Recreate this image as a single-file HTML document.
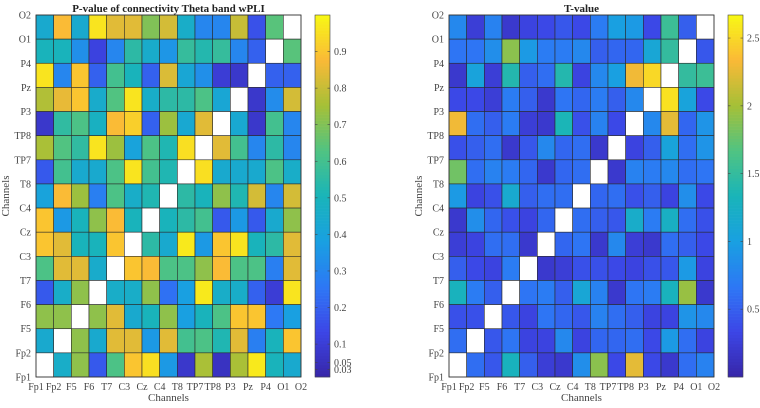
<!DOCTYPE html>
<html><head><meta charset="utf-8">
<style>
html,body{margin:0;padding:0;background:#fff;}
svg{display:block;font-family:"Liberation Serif",serif;}
</style></head>
<body>
<svg id="chart" width="760" height="408" viewBox="0 0 760 408"></svg>
<script>
const channels = ["Fp1","Fp2","F5","F6","T7","C3","Cz","C4","T8","TP7","TP8","P3","Pz","P4","O1","O2"];
// rows listed top to bottom, null = diagonal (white)
const pValues = [
[0.44,0.88,0.44,0.96,0.84,0.84,0.70,0.82,0.46,0.30,0.30,0.80,0.16,0.64,null],
[0.50,0.50,0.33,0.12,0.30,0.55,0.45,0.35,0.57,0.53,0.57,0.30,0.20,null,0.64],
[0.96,0.30,0.90,0.20,0.60,0.50,0.20,0.83,0.42,0.33,0.10,0.08,null,0.20,0.20],
[0.77,0.85,0.90,0.45,0.63,0.96,0.46,0.55,0.55,0.62,0.42,null,0.08,0.32,0.82],
[0.08,0.56,0.62,0.48,0.88,0.92,0.20,0.74,0.43,0.84,null,0.43,0.08,0.60,0.30],
[0.76,0.63,0.56,0.96,0.74,0.40,0.62,0.52,0.95,null,0.84,0.60,0.30,0.55,0.30],
[0.18,0.60,0.44,0.44,0.62,0.96,0.60,0.52,null,0.95,0.44,0.44,0.44,0.62,0.46],
[0.40,0.88,0.74,0.28,0.62,0.46,0.52,null,0.55,0.50,0.72,0.52,0.82,0.30,0.82],
[0.90,0.36,0.50,0.72,0.88,0.50,null,0.50,0.55,0.60,0.18,0.36,0.18,0.44,0.72],
[0.90,0.84,0.50,0.50,0.90,null,0.55,0.44,0.97,0.36,0.90,0.96,0.50,0.55,0.84],
[0.62,0.84,0.84,0.45,null,0.90,0.88,0.62,0.62,0.72,0.88,0.62,0.62,0.28,0.84],
[0.18,0.46,0.72,null,0.46,0.46,0.72,0.24,0.38,0.97,0.46,0.46,0.20,0.10,0.96],
[0.72,0.72,null,0.72,0.84,0.44,0.50,0.72,0.38,0.50,0.62,0.90,0.90,0.26,0.38],
[0.44,null,0.72,0.44,0.84,0.84,0.36,0.84,0.60,0.62,0.52,0.84,0.28,0.50,0.90],
[null,0.46,0.72,0.18,0.62,0.90,0.95,0.36,0.08,0.76,0.06,0.76,0.97,0.50,0.44]
];
const tValues = [
[0.80,0.25,0.75,0.20,0.30,0.35,0.45,0.35,0.70,1.00,0.95,0.35,1.55,0.50,null],
[0.65,0.65,0.85,1.90,0.95,0.70,0.70,0.80,0.50,0.55,0.55,1.10,1.50,null,0.45],
[0.20,1.05,0.25,1.40,0.50,0.60,1.40,0.30,0.80,1.00,2.30,2.50,null,1.50,1.55],
[0.35,0.35,0.25,0.70,0.50,0.20,0.65,0.55,0.70,0.50,0.80,null,2.55,1.05,0.35],
[2.30,0.60,0.50,0.70,0.25,0.20,1.35,0.40,0.75,0.35,null,0.80,2.25,0.55,0.90],
[0.40,0.50,0.60,0.20,0.45,0.80,0.55,0.60,0.20,null,0.30,0.50,1.05,0.60,0.90],
[1.80,0.60,0.75,0.70,0.55,0.20,0.55,0.60,null,0.20,0.75,0.70,0.80,0.60,0.65],
[0.95,0.30,0.40,1.15,0.50,0.60,0.60,null,0.55,0.60,0.40,0.50,0.30,0.85,0.35],
[0.20,0.85,0.55,0.40,0.30,0.55,null,0.60,0.50,0.45,1.20,0.70,1.25,0.60,0.40],
[0.25,0.30,0.60,0.60,0.20,null,0.55,0.65,0.20,0.80,0.25,0.20,0.60,0.50,0.35],
[0.50,0.35,0.30,0.70,null,0.20,0.25,0.40,0.40,0.35,0.30,0.40,0.45,0.95,0.30],
[1.30,0.70,0.50,null,0.65,0.70,0.50,1.10,0.75,0.20,0.65,0.70,1.30,1.95,0.20],
[0.40,0.40,null,0.45,0.30,0.65,0.55,0.45,0.75,0.60,0.50,0.30,0.30,0.90,0.80],
[0.60,null,0.45,0.65,0.30,0.30,0.80,0.30,0.55,0.55,0.60,0.35,0.95,0.60,0.30],
[null,0.60,0.45,1.30,0.50,0.25,0.20,0.85,1.90,0.35,2.25,0.35,0.20,0.60,0.75]
];
const pTicks = [0.03,0.05,0.1,0.2,0.3,0.4,0.5,0.6,0.7,0.8,0.9];
const tTicks = [0.5,1,1.5,2,2.5];

const parula = [[55,38,168],[60,70,230],[45,120,245],[25,160,225],[25,180,185],[80,195,130],[165,192,55],[250,185,55],[248,248,20]];
function cmap(f){
  f=Math.max(0,Math.min(1,f));
  const p=f*(parula.length-1), i=Math.min(Math.floor(p),parula.length-2), t=p-i;
  const a=parula[i],b=parula[i+1];
  return `rgb(${a.map((v,k)=>Math.round(v+(b[k]-v)*t)).join(',')})`;
}
const svg=document.getElementById('chart');
const NS='http://www.w3.org/2000/svg';
function mk(tag,attrs,parent){const e=document.createElementNS(NS,tag);for(const k in attrs)e.setAttribute(k,attrs[k]);(parent||svg).appendChild(e);return e;}

function panel(cfg){
  const g=mk('g',{});
  
  
  const {x0,x1,y0,y1,vmin,vmax,data,ticks,cbx}=cfg;
  const n=data.length, cw=(x1-x0)/n, ch=(y1-y0)/n;
  const sx=c=>x0+c*cw, sy=r=>y0+r*ch;
  const norm=v=>(v-vmin)/(vmax-vmin);
  mk('rect',{x:x0,y:y0,width:x1-x0,height:y1-y0,fill:'#fff'},g);
  data.forEach((row,r)=>row.forEach((v,c)=>{
    const rc=mk('rect',{x:sx(c),y:sy(r),width:cw,height:ch,fill:v===null?'#fff':cmap(norm(v)),stroke:'#2a2a2a','stroke-width':0.6},g);
    
    
  }));
  mk('rect',{x:x0,y:y0,width:x1-x0,height:y1-y0,fill:'none',stroke:'#333','stroke-width':0.8},g);
  channels.forEach((lab,i)=>{
    const t=mk('text',{x:x0+i*cw,y:y1+13,'font-size':10,'text-anchor':'middle',fill:'#444'},g);
    t.textContent=lab;
    
    
    const u=mk('text',{x:x0-5,y:y1-i*ch+3.5,'font-size':10,'text-anchor':'end',fill:'#444'},g);
    u.textContent=lab;
    
    
  });
  const xl=mk('text',{x:(x0+x1)/2,y:401,'font-size':11,'text-anchor':'middle',fill:'#444'},g);
  xl.textContent='Channels';
  
  
  const yx=x0-27, yy=(y0+y1)/2;
  const yl=mk('text',{x:yx,y:yy,'font-size':11,'text-anchor':'middle',fill:'#444',transform:`rotate(-90 ${yx} ${yy})`},g);
  yl.textContent='Channels';
  
  
  const tt=mk('text',{x:(x0+x1)/2,y:12,'font-size':11,'font-weight':'bold','text-anchor':'middle',fill:'#222'},g);
  tt.textContent=cfg.title;
  
  
  const cb=mk('g',{},g);
  
  
  const N=120, cwid=15, hh=(y1-y0)/N;
  for(let i=0;i<N;i++){
    mk('rect',{x:cbx,y:y1-(i+1)*hh,width:cwid,height:hh+0.3,fill:cmap((i+0.5)/N)},cb);
  }
  mk('rect',{x:cbx,y:y0,width:cwid,height:y1-y0,fill:'none',stroke:'#444','stroke-width':0.6},cb);
  const cy=v=>y1-norm(v)*(y1-y0);
  ticks.forEach(v=>{
    const y=cy(v);
    mk('line',{x1:cbx,x2:cbx+2.5,y1:y,y2:y,stroke:'#444','stroke-width':0.6},cb);
    mk('line',{x1:cbx+cwid-2.5,x2:cbx+cwid,y1:y,y2:y,stroke:'#444','stroke-width':0.6},cb);
    const t=mk('text',{x:cbx+cwid+4,y:y+3.5,'font-size':10,fill:'#444'},cb);
    t.textContent=String(v);
    
    
  });
}
panel({name:'p-value-heatmap',title:'P-value of connectivity Theta band wPLI',x0:36,x1:301,y0:15,y1:377,vmin:0.01,vmax:1.0,data:pValues,ticks:pTicks,cbx:315});
panel({name:'t-value-heatmap',title:'T-value',x0:449,x1:714,y0:15,y1:377,vmin:0,vmax:2.67,data:tValues,ticks:tTicks,cbx:728});
</script>
</body></html>
